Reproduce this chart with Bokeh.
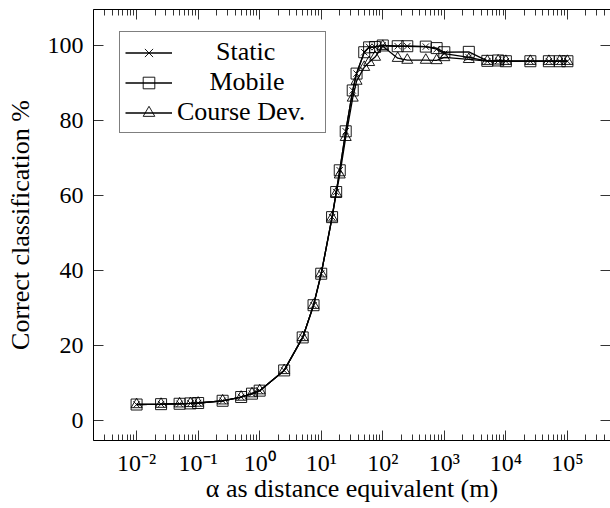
from bokeh.plotting import figure
from bokeh.models import Range1d, FixedTicker, LinearAxis, LogAxis, CustomJSTickFormatter
from bokeh.embed import file_html
from bokeh.resources import INLINE

# ---- data ----
alpha_m = [0.01, 0.025, 0.05, 0.075, 0.1, 0.25, 0.5, 0.75, 1, 2.5, 5, 7.5, 10, 15, 17.5, 20,
           25, 32.5, 37.5, 50, 60, 75, 100, 175, 250, 500, 750, 1000, 2500, 5000, 7500,
           10000, 25000, 50000, 75000, 100000]
static = [4.2, 4.3, 4.4, 4.5, 4.6, 5.2, 6.2, 7.1, 7.9, 13.3, 22.1, 30.7, 39.1, 54.2, 60.9, 66.7,
          77.1, 88.0, 92.5, 98.2, 99.6, 99.6, 100.0, 99.8, 99.8, 99.7, 99.0, 97.8, 96.8, 95.8, 95.9,
          95.8, 95.8, 95.8, 95.8, 95.8]
mobile = [4.2, 4.3, 4.4, 4.5, 4.6, 5.2, 6.2, 7.1, 7.9, 13.3, 22.1, 30.7, 39.1, 54.2, 60.9, 66.7,
          77.1, 88.0, 92.5, 98.2, 99.5, 99.6, 100.0, 99.8, 99.8, 99.7, 99.3, 98.2, 98.3, 95.9, 96.0,
          95.8, 95.8, 95.8, 95.8, 95.8]
course = [4.2, 4.3, 4.4, 4.5, 4.6, 5.2, 6.2, 7.1, 7.9, 13.3, 22.1, 30.7, 39.1, 54.0, 60.5, 65.5,
          75.5, 86.0, 90.5, 94.2, 95.5, 96.9, 99.8, 96.6, 96.1, 96.1, 96.0, 96.8, 96.3, 95.8, 95.9,
          95.8, 95.8, 95.8, 95.8, 95.8]
series_names = ["Static", "Mobile", "Course Dev."]
x_major_ticks = [1e-2, 1e-1, 1e0, 1e1, 1e2, 1e3, 1e4, 1e5]
y_major_ticks = [0, 20, 40, 60, 80, 100]

FONT = "Liberation Serif"
FS_TICK = "24px"
FS_TEXT = "26px"

x_minor = [m * 10.0 ** k for k in range(-3, 6) for m in range(2, 10)]

p = figure(width=610, height=508, x_axis_type="log",
           x_range=Range1d(10 ** -2.7, 10 ** 5.7), y_range=Range1d(-5.4, 109.6),
           output_backend="svg", toolbar_location=None,
           min_border_left=93, min_border_right=0, min_border_top=9, min_border_bottom=68)
p.outline_line_color = None
p.grid.visible = False
p.background_fill_color = "white"

sup_fmt = CustomJSTickFormatter(code="""
const sup = {'-':'\u207b','0':'\u2070','1':'\u00b9','2':'\u00b2','3':'\u00b3','4':'\u2074',
             '5':'\u2075','6':'\u2076','7':'\u2077','8':'\u2078','9':'\u2079'};
const e = Math.round(Math.log10(tick));
return '10' + String(e).split('').map(c => sup[c]).join('');
""")
blank_fmt = CustomJSTickFormatter(code="return '';")


def style(ax, minor=True):
    ax.axis_line_color = "black"
    ax.axis_line_width = 1
    ax.major_tick_in = 10
    ax.major_tick_out = 0
    ax.minor_tick_in = 6 if minor else 0
    ax.minor_tick_out = 0
    ax.major_tick_line_color = "black"
    ax.minor_tick_line_color = "black"
    ax.major_tick_line_width = 0.8
    ax.minor_tick_line_width = 0.8
    ax.major_label_text_font = FONT
    ax.major_label_text_font_size = FS_TICK
    ax.major_label_text_color = "black"
    ax.axis_label_text_font = FONT
    ax.axis_label_text_font_size = FS_TEXT
    ax.axis_label_text_font_style = "normal"
    ax.axis_label_text_color = "black"


xt = FixedTicker(ticks=x_major_ticks, minor_ticks=x_minor)
yt = FixedTicker(ticks=y_major_ticks)

bx = p.xaxis[0]
style(bx)
bx.ticker = xt
bx.formatter = sup_fmt
bx.major_label_standoff = 9
bx.axis_label = "\u03b1 as distance equivalent (m)"
bx.axis_label_standoff = -5

ly = p.yaxis[0]
style(ly, minor=False)
ly.ticker = yt
ly.major_label_standoff = 10
ly.axis_label = "Correct classification %"
ly.axis_label_standoff = 10

top = LogAxis(ticker=xt, formatter=blank_fmt)
style(top)
top.major_label_standoff = 0
p.add_layout(top, "above")

right = LinearAxis(ticker=yt, formatter=blank_fmt)
style(right, minor=False)
right.axis_line_color = None
right.major_label_standoff = 0
p.add_layout(right, "right")

# legend labels are centred in the legend box as in the reference (non-breaking-space padding)
pad = {"Static": "\u00a0" * 6, "Mobile": "\u00a0" * 5, "Course Dev.": ""}
markers = ["x", "square", "triangle"]
sizes = [9, 11, 11]
for ys, name, mk, sz in zip([static, mobile, course], series_names, markers, sizes):
    lab = pad[name] + name
    p.line(alpha_m, ys, line_color="black", line_width=1.3, legend_label=lab)
    p.scatter(alpha_m, ys, marker=mk, size=sz, line_color="black", fill_color=None,
              line_width=0.9, legend_label=lab)

lg = p.legend[0]
lg.location = (26, 307)
lg.padding = 5
lg.spacing = 0
lg.glyph_width = 47
lg.glyph_height = 29
lg.label_height = 29
lg.label_standoff = 5
lg.label_width = 143
lg.label_text_font = FONT
lg.label_text_font_size = FS_TEXT
lg.label_text_color = "black"
lg.border_line_color = "black"
lg.border_line_width = 1
lg.background_fill_color = "white"
lg.background_fill_alpha = 1.0

open("out.html", "w", encoding="utf-8").write(file_html(p, INLINE))
